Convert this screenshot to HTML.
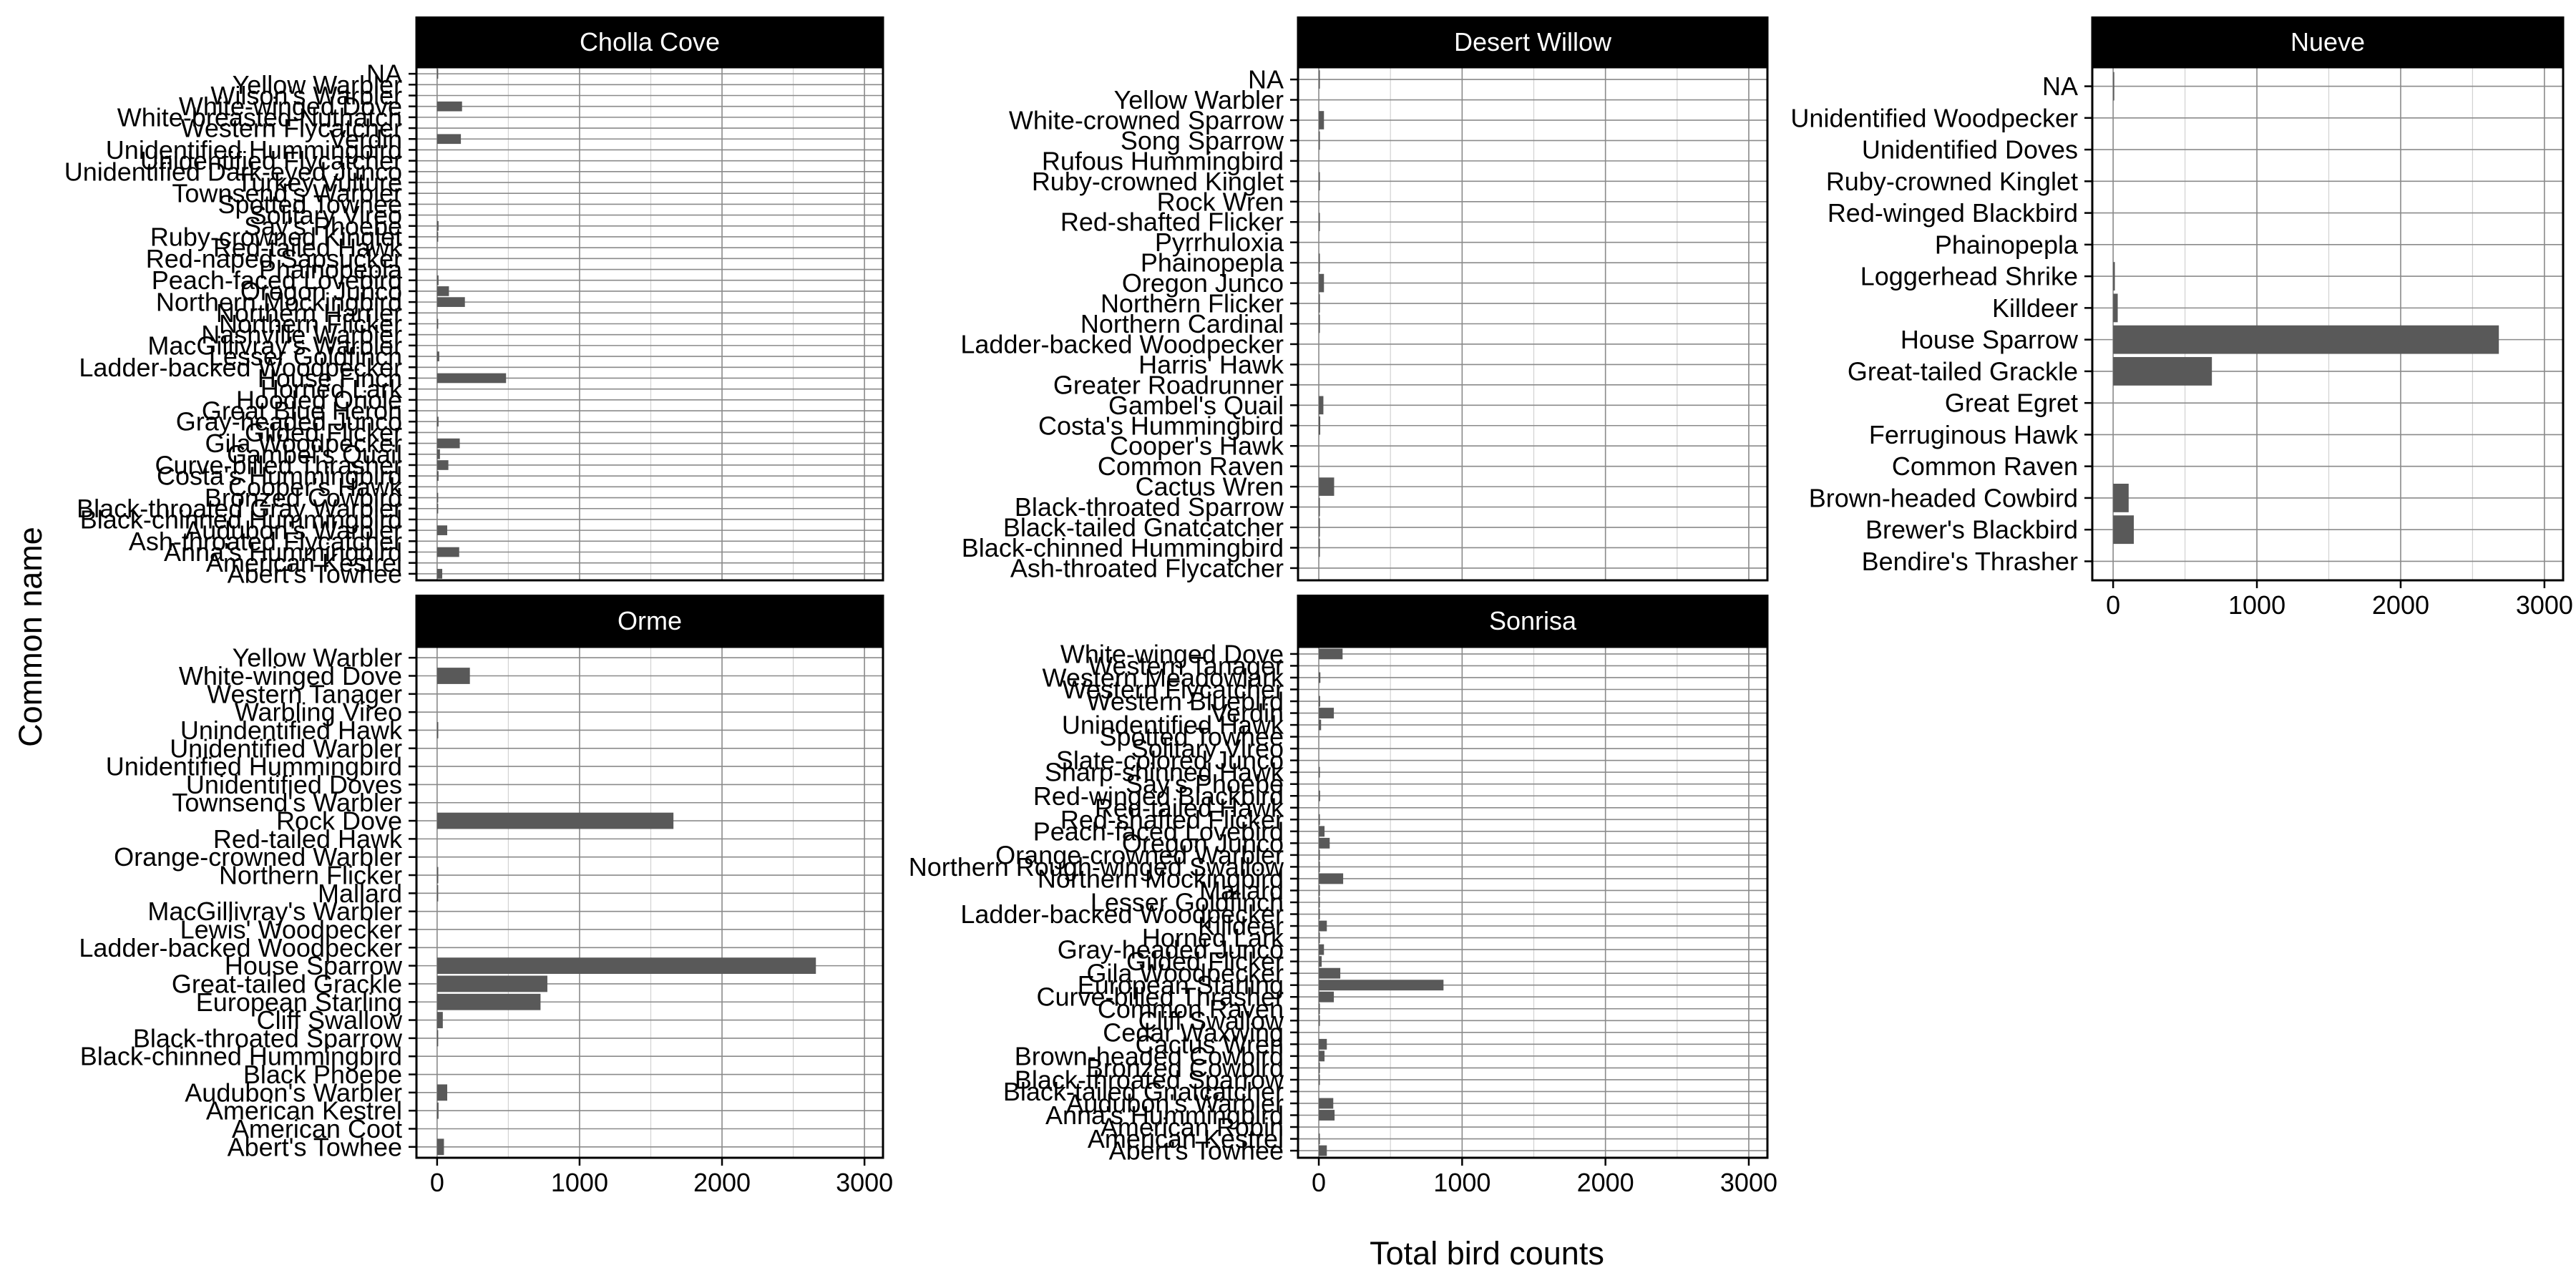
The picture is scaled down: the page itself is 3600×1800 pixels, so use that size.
<!DOCTYPE html>
<html><head><meta charset="utf-8"><style>
html,body{margin:0;padding:0;background:#fff;}
svg{display:block;font-family:"Liberation Sans",Arial,sans-serif;}
</style></head><body>
<svg id="chart" width="3600" height="1800" viewBox="0 0 3600 1800" xmlns="http://www.w3.org/2000/svg">
<rect width="3600" height="1800" fill="#fff"/>
<text x="2078" y="1767" font-size="45" text-anchor="middle" fill="#000">Total bird counts</text>
<text x="58" y="890" font-size="45" text-anchor="middle" fill="#000" transform="rotate(-90 58 890)">Common name</text>
</svg>
<script>
const xTicks = [0, 1000, 2000, 3000];
const xMinor = [500, 1500, 2500];
const xDomain = [-145, 3130];

const chollaCats = ["NA","Yellow Warbler","Wilson's Warbler","White-winged Dove","White-breasted Nuthatch","Western Flycatcher","Verdin","Unidentified Hummingbird","Unidentified Flycatcher","Unidentified Dark-eyed Junco","Turkey Vulture","Townsend's Warbler","Spotted Towhee","Solitary Vireo","Say's Phoebe","Ruby-crowned Kinglet","Red-tailed Hawk","Red-naped Sapsucker","Phainopepla","Peach-faced Lovebird","Oregon Junco","Northern Mockingbird","Northern Harrier","Northern Flicker","Nashville Warbler","MacGillivray's Warbler","Lesser Goldfinch","Ladder-backed Woodpecker","House Finch","Horned Lark","Hooded Oriole","Great Blue Heron","Gray-headed Junco","Gilded Flicker","Gila Woodpecker","Gambel's Quail","Curve-billed Thrasher","Costa's Hummingbird","Cooper's Hawk","Bronzed Cowbird","Black-throated Gray Warbler","Black-chinned Hummingbird","Audubon's Warbler","Ash-throated Flycatcher","Anna's Hummingbird","American Kestrel","Abert's Towhee"];
const chollaVals = [1,0,0,175,0,0,167,0,0,0,0,0,0,0,10,2,0,0,0,10,83,195,0,3,0,0,15,0,484,0,0,0,10,0,159,20,79,10,0,2,1,0,71,0,155,0,36];

const willowCats = ["NA","Yellow Warbler","White-crowned Sparrow","Song Sparrow","Rufous Hummingbird","Ruby-crowned Kinglet","Rock Wren","Red-shafted Flicker","Pyrrhuloxia","Phainopepla","Oregon Junco","Northern Flicker","Northern Cardinal","Ladder-backed Woodpecker","Harris' Hawk","Greater Roadrunner","Gambel's Quail","Costa's Hummingbird","Cooper's Hawk","Common Raven","Cactus Wren","Black-throated Sparrow","Black-tailed Gnatcatcher","Black-chinned Hummingbird","Ash-throated Flycatcher"];
const willowVals = [4,0,36,2,0,2,0,2,0,2,36,2,2,0,0,0,32,10,0,0,107,4,2,2,0];

const nueveCats = ["NA","Unidentified Woodpecker","Unidentified Doves","Ruby-crowned Kinglet","Red-winged Blackbird","Phainopepla","Loggerhead Shrike","Killdeer","House Sparrow","Great-tailed Grackle","Great Egret","Ferruginous Hawk","Common Raven","Brown-headed Cowbird","Brewer's Blackbird","Bendire's Thrasher"];
const nueveVals = [8,0,0,0,0,0,12,32,2683,687,0,0,0,108,144,0];

const ormeCats = ["Yellow Warbler","White-winged Dove","Western Tanager","Warbling Vireo","Unindentified Hawk","Unidentified Warbler","Unidentified Hummingbird","Unidentified Doves","Townsend's Warbler","Rock Dove","Red-tailed Hawk","Orange-crowned Warbler","Northern Flicker","Mallard","MacGillivray's Warbler","Lewis' Woodpecker","Ladder-backed Woodpecker","House Sparrow","Great-tailed Grackle","European Starling","Cliff Swallow","Black-throated Sparrow","Black-chinned Hummingbird","Black Phoebe","Audubon's Warbler","American Kestrel","American Coot","Abert's Towhee"];
const ormeVals = [0,230,0,0,8,0,0,0,0,1659,0,0,8,4,0,0,0,2659,774,726,40,3,0,0,71,10,0,48];

const sonrisaCats = ["White-winged Dove","Western Tanager","Western Meadowlark","Western Flycatcher","Western Bluebird","Verdin","Unindentified Hawk","Spotted Towhee","Solitary Vireo","Slate-colored Junco","Sharp-shinned Hawk","Say's Phoebe","Red-winged Blackbird","Red-tailed Hawk","Red-shafted Flicker","Peach-faced Lovebird","Oregon Junco","Orange-crowned Warbler","Northern Rough-winged Swallow","Northern Mockingbird","Mallard","Lesser Goldfinch","Ladder-backed Woodpecker","Killdeer","Horned Lark","Gray-headed Junco","Gilded Flicker","Gila Woodpecker","European Starling","Curve-billed Thrasher","Common Raven","Cliff Swallow","Cedar Waxwing","Cactus Wren","Brown-headed Cowbird","Bronzed Cowbird","Black-throated Sparrow","Black-tailed Gnatcatcher","Audubon's Warbler","Anna's Hummingbird","American Robin","American Kestrel","Abert's Towhee"];
const sonrisaVals = [166,0,11,0,9,105,16,0,0,0,2,0,9,0,2,40,76,2,2,170,2,2,2,56,2,36,20,150,870,105,2,2,0,56,40,2,2,0,101,110,0,2,56];

const panelNames = ["Cholla Cove","Desert Willow","Nueve","Orme","Sonrisa"];
const panelCats = [chollaCats, willowCats, nueveCats, ormeCats, sonrisaCats];
const panelVals = [chollaVals, willowVals, nueveVals, ormeVals, sonrisaVals];

const svg = document.getElementById('chart');
const NS = 'http://www.w3.org/2000/svg';
function mk(tag, attrs, parent){const e=document.createElementNS(NS,tag);for(const k in attrs)e.setAttribute(k,attrs[k]);(parent||svg).appendChild(e);return e;}
function slug(s){return s.toLowerCase().replace(/[^a-z0-9]+/g,'-').replace(/^-|-$/g,'');}

const layout = [
  {l:582,r:1234,ht:23,t:94,b:811,showX:false},
  {l:1814,r:2470,ht:23,t:94,b:811,showX:false},
  {l:2924,r:3582,ht:23,t:94,b:811,showX:true},
  {l:582,r:1234,ht:831,t:904,b:1618,showX:true},
  {l:1814,r:2470,ht:831,t:904,b:1618,showX:true}
];

layout.forEach((L,p)=>{
  const cats = panelCats[p], vals = panelVals[p], n = cats.length;
  const xs = v => L.l + (v - xDomain[0])/(xDomain[1]-xDomain[0])*(L.r-L.l);
  const step = (L.b-L.t)/(n-1+1.2);
  const ys = i => L.t + (0.6+i)*step;
  const g = mk('g',{});
  
  
  mk('rect',{x:L.l,y:L.t,width:L.r-L.l,height:L.b-L.t,fill:'#fff'},g);
  xMinor.forEach(v=>{const ln=mk('line',{x1:xs(v),x2:xs(v),y1:L.t,y2:L.b,stroke:'#d2d2d2','stroke-width':1.2},g);
    
    });
  xTicks.forEach(v=>{const ln=mk('line',{x1:xs(v),x2:xs(v),y1:L.t,y2:L.b,stroke:'#8a8a8a','stroke-width':1.6},g);
    
    });
  cats.forEach((c,i)=>{const ln=mk('line',{x1:L.l,x2:L.r,y1:ys(i),y2:ys(i),stroke:'#8a8a8a','stroke-width':1.6},g);
    
    });
  cats.forEach((c,i)=>{
    const v = vals[i];
    if(v>0){
      const h = step*0.9;
      const b = mk('rect',{x:xs(0),y:ys(i)-h/2,width:Math.max(xs(v)-xs(0),1.5),height:h,fill:'#595959'},g);
      
      
    }
    const tk = mk('line',{x1:L.l-11,x2:L.l,y1:ys(i),y2:ys(i),stroke:'#000','stroke-width':2.5},g);
    
    
    const t = mk('text',{x:L.l-20,y:ys(i),'font-size':36,'text-anchor':'end','dominant-baseline':'central',fill:'#000'},g);
    t.textContent = c;
    
    
  });
  mk('rect',{x:L.l,y:L.t,width:L.r-L.l,height:L.b-L.t,fill:'none',stroke:'#000','stroke-width':3},g);
  const hd = mk('rect',{x:L.l-1.5,y:L.ht,width:L.r-L.l+3,height:L.t-L.ht,fill:'#000'},g);
  
  
  const ht = mk('text',{x:(L.l+L.r)/2,y:(L.ht+L.t)/2,'font-size':36,'text-anchor':'middle','dominant-baseline':'central',fill:'#fff'},g);
  ht.textContent = panelNames[p];
  
  
  if(L.showX){
    xTicks.forEach(v=>{
      const tk = mk('line',{x1:xs(v),x2:xs(v),y1:L.b,y2:L.b+11,stroke:'#000','stroke-width':2.5},g);
      
      
      const t = mk('text',{x:xs(v),y:L.b+47,'font-size':36,'text-anchor':'middle',fill:'#000'},g);
      t.textContent = String(v);
      
      
    });
  }
});
</script>
</body></html>
